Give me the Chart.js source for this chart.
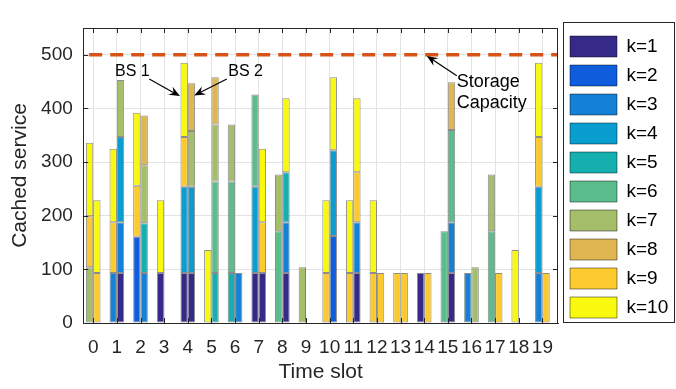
<!DOCTYPE html>
<html>
<head>
<meta charset="utf-8">
<script src="https://cdn.jsdelivr.net/npm/chart.js@4"></script>
<style>
  html, body { margin: 0; padding: 0; background: #fff; }
  #wrap { width: 676px; height: 389px; }
</style>
</head>
<body>
<div id="wrap"><canvas id="cacheChart" width="676" height="389"></canvas></div>
<script>
// time slots on the x axis
var slots = [0, 1, 2, 3, 4, 5, 6, 7, 8, 9, 10, 11, 12, 13, 14, 15, 16, 17, 18, 19];
var kLabels = ['k=1', 'k=2', 'k=3', 'k=4', 'k=5', 'k=6', 'k=7', 'k=8', 'k=9', 'k=10'];
var kColors = ['#352A87', '#0F5CDD', '#1481D6', '#0A9DCF', '#16AFB0', '#5BBD8C', '#A5BE6A', '#DFB652', '#FCCA2E', '#F9F90F'];

// cached service of each k at BS 1, one row per k (0 = not cached)
var bs1 = [
    [0, 0, 0, 93, 93, 0, 0, 93, 0, 0, 0, 0, 0, 0, 93, 0, 0, 0, 0, 0],
    [0, 0, 161, 0, 0, 0, 0, 0, 0, 0, 0, 0, 0, 0, 0, 0, 0, 0, 0, 0],
    [0, 93, 0, 0, 0, 0, 0, 0, 0, 0, 0, 0, 0, 0, 0, 0, 93, 0, 0, 93],
    [0, 0, 0, 0, 161, 0, 0, 161, 0, 0, 0, 0, 0, 0, 0, 0, 0, 0, 0, 161],
    [0, 0, 0, 0, 0, 0, 93, 0, 0, 0, 0, 0, 0, 0, 0, 0, 0, 0, 0, 0],
    [0, 0, 0, 0, 0, 0, 171, 172, 171, 0, 0, 0, 0, 0, 0, 171, 0, 171, 0, 0],
    [104, 0, 0, 0, 0, 0, 106, 0, 106, 104, 0, 0, 0, 0, 0, 0, 0, 106, 0, 0],
    [0, 0, 0, 0, 0, 0, 0, 0, 0, 0, 0, 0, 0, 0, 0, 0, 0, 0, 0, 0],
    [95, 95, 95, 0, 93, 0, 0, 0, 0, 0, 93, 93, 93, 93, 0, 0, 0, 0, 0, 93],
    [137, 137, 136, 136, 138, 136, 0, 0, 0, 0, 136, 136, 136, 0, 0, 0, 0, 0, 136, 138]
];

// cached service of each k at BS 2
var bs2 = [
    [0, 93, 0, 0, 93, 0, 0, 93, 93, 0, 0, 93, 0, 0, 0, 93, 0, 0, 0, 0],
    [0, 0, 0, 0, 0, 0, 0, 0, 0, 0, 162, 0, 0, 0, 0, 0, 0, 0, 0, 0],
    [0, 95, 93, 0, 0, 0, 93, 0, 95, 0, 0, 95, 0, 0, 0, 95, 0, 0, 0, 0],
    [0, 159, 0, 0, 161, 0, 0, 0, 0, 0, 160, 0, 0, 0, 0, 0, 0, 0, 0, 0],
    [0, 0, 93, 0, 0, 93, 0, 0, 93, 0, 0, 0, 0, 0, 0, 0, 0, 0, 0, 0],
    [0, 0, 0, 0, 0, 171, 0, 0, 0, 0, 0, 0, 0, 0, 0, 172, 0, 0, 0, 0],
    [0, 106, 108, 0, 104, 106, 0, 0, 0, 0, 0, 0, 0, 0, 0, 0, 104, 0, 0, 0],
    [0, 0, 93, 0, 89, 88, 0, 0, 0, 0, 0, 0, 0, 0, 0, 89, 0, 0, 0, 0],
    [93, 0, 0, 0, 0, 0, 0, 95, 0, 0, 0, 93, 93, 93, 93, 0, 0, 93, 0, 93],
    [136, 0, 0, 0, 0, 0, 0, 137, 138, 0, 136, 138, 0, 0, 0, 0, 0, 0, 0, 0]
];

var capacity = 500;
var yTicks = [0, 100, 200, 300, 400, 500];

// text labels with arrows, in data units
var notes = [
    { lines: ['BS 1'], size: 16, x: 0.92, y: 468, from: [2.37, 455], to: [3.67, 423] },
    { lines: ['BS 2'], size: 16, x: 5.71, y: 468, from: [5.65, 455], to: [4.27, 424] },
    { lines: ['Storage', 'Capacity'], size: 18, x: 15.38, y: 450, from: [15.38, 461], to: [14.11, 498] }
];

var FONT = "'Liberation Sans', Arial, Helvetica, sans-serif";
var INK = '#262626';

function buildSets(rows, stack) {
    return rows.map(function(row, k) {
        return {
            label: kLabels[k],
            stack: stack,
            yAxisID: 'y',
            data: row.map(function(v, i) { return { x: slots[i], y: v > 0 ? v : null }; }),
            backgroundColor: kColors[k],
            borderColor: 'rgba(0,0,0,0.45)',
            borderWidth: 1,
            borderSkipped: false
        };
    });
}

function arrow(ctx, x1, y1, x2, y2) {
    var ang = Math.atan2(y2 - y1, x2 - x1);
    var len = 11, half = 4.5;
    ctx.beginPath();
    ctx.moveTo(x1, y1);
    ctx.lineTo(x2 - Math.cos(ang) * len * 0.6, y2 - Math.sin(ang) * len * 0.6);
    ctx.stroke();
    var bx = x2 - Math.cos(ang) * len, by = y2 - Math.sin(ang) * len;
    var nx = -Math.sin(ang) * half, ny = Math.cos(ang) * half;
    ctx.beginPath();
    ctx.moveTo(x2, y2);
    ctx.lineTo(bx + nx, by + ny);
    ctx.lineTo(x2 - Math.cos(ang) * len * 0.65, y2 - Math.sin(ang) * len * 0.65);
    ctx.lineTo(bx - nx, by - ny);
    ctx.closePath();
    ctx.fill();
}

var decor = {
    id: 'decor',
    afterDatasetsDraw: function(chart) {
        var ctx = chart.ctx, a = chart.chartArea;
        var xs = chart.scales.x, ys = chart.scales.y;
        ctx.save();
        // box top / right and inward ticks
        ctx.strokeStyle = INK;
        ctx.lineWidth = 1;
        ctx.beginPath();
        ctx.moveTo(a.left, a.top + 0.5); ctx.lineTo(a.right, a.top + 0.5);
        ctx.moveTo(a.right - 0.5, a.top); ctx.lineTo(a.right - 0.5, a.bottom);
        xs.ticks.forEach(function(t) {
            var px = Math.round(xs.getPixelForValue(t.value)) + 0.5;
            ctx.moveTo(px, a.bottom); ctx.lineTo(px, a.bottom - 5);
            ctx.moveTo(px, a.top); ctx.lineTo(px, a.top + 5);
        });
        ys.ticks.forEach(function(t) {
            var py = Math.round(ys.getPixelForValue(t.value)) + 0.5;
            ctx.moveTo(a.left, py); ctx.lineTo(a.left + 5, py);
            ctx.moveTo(a.right, py); ctx.lineTo(a.right - 5, py);
        });
        ctx.stroke();

        // storage capacity
        var cy = ys.getPixelForValue(capacity);
        ctx.strokeStyle = '#D95319';
        ctx.lineWidth = 3.5;
        ctx.setLineDash([13, 8]);
        ctx.beginPath();
        ctx.moveTo(xs.getPixelForValue(-0.17), cy);
        ctx.lineTo(a.right - 1, cy);
        ctx.stroke();
        ctx.setLineDash([]);

        // annotations
        ctx.fillStyle = '#000';
        ctx.strokeStyle = '#000';
        ctx.lineWidth = 1.2;
        ctx.textBaseline = 'middle';
        ctx.textAlign = 'left';
        notes.forEach(function(n) {
            var tx = xs.getPixelForValue(n.x), ty = ys.getPixelForValue(n.y);
            ctx.font = n.size + 'px ' + FONT;
            n.lines.forEach(function(s, i) { ctx.fillText(s, tx, ty + i * 21); });
            arrow(ctx, xs.getPixelForValue(n.from[0]), ys.getPixelForValue(n.from[1]),
                  xs.getPixelForValue(n.to[0]), ys.getPixelForValue(n.to[1]));
        });
        ctx.restore();
    },
    afterDraw: function(chart) {
        var boxes = chart.legend && chart.legend.legendHitBoxes;
        if (!boxes || !boxes.length) return;
        var first = boxes[0], last = boxes[boxes.length - 1];
        var ctx = chart.ctx;
        ctx.save();
        ctx.strokeStyle = INK;
        ctx.lineWidth = 1;
        var top = Math.round(first.top) - 13.5;
        var bottom = Math.round(last.top + last.height) + 4.5;
        ctx.strokeRect(Math.round(first.left) - 6.5, top, 111, bottom - top);
        ctx.restore();
    }
};

document.addEventListener('DOMContentLoaded', function() {
    var ctx = document.getElementById('cacheChart');
    new Chart(ctx.getContext('2d'), {
        type: 'bar',
        data: { datasets: buildSets(bs1, 'BS1').concat(buildSets(bs2, 'BS2')) },
        options: {
            responsive: false,
            animation: false,
            layout: { padding: { top: 28, left: 8, right: 0, bottom: 0 } },
            datasets: { bar: { categoryPercentage: 0.62, barPercentage: 1.0 } },
            scales: {
                x: {
                    type: 'linear',
                    stacked: true,
                    min: -0.42,
                    max: 19.66,
                    offset: false,
                    grid: { color: '#E3E3E3', drawTicks: false, offset: false },
                    border: { color: INK, width: 1 },
                    ticks: { stepSize: 1, includeBounds: false, autoSkip: false, maxRotation: 0, minRotation: 0,
                             padding: 13, color: INK, font: { family: FONT, size: 19 } },
                    title: { display: true, text: 'Time slot', color: INK, padding: { top: 0, bottom: 4 }, font: { family: FONT, size: 21 } },
                    afterFit: function(scale) { scale.height = 66; }
                },
                y: {
                    stacked: true,
                    min: 0,
                    max: 550,
                    grid: { color: '#E3E3E3', drawTicks: false },
                    border: { color: INK, width: 1 },
                    afterBuildTicks: function(scale) { scale.ticks = yTicks.map(function(v) { return { value: v }; }); },
                    ticks: { padding: 10.5, color: INK, font: { family: FONT, size: 19 } },
                    title: { display: true, text: 'Cached service', color: INK, padding: { top: 0, bottom: 0 }, font: { family: FONT, size: 21 } },
                    afterFit: function(scale) { scale.width = 75.3; }
                },
                gap: {
                    position: 'right',
                    display: true,
                    grid: { display: false, drawTicks: false },
                    border: { display: false },
                    ticks: { display: false },
                    afterFit: function(scale) { scale.width = 4; }
                }
            },
            plugins: {
                tooltip: { enabled: false },
                legend: {
                    position: 'right',
                    align: 'start',
                    maxWidth: 114,
                    labels: {
                        boxWidth: 47,
                        boxHeight: 21,
                        padding: 8,
                        color: '#000',
                        font: { family: FONT, size: 19 },
                        filter: function(item) { return item.datasetIndex < 10; }
                    }
                }
            }
        },
        plugins: [decor]
    });
});
</script>
</body>
</html>
